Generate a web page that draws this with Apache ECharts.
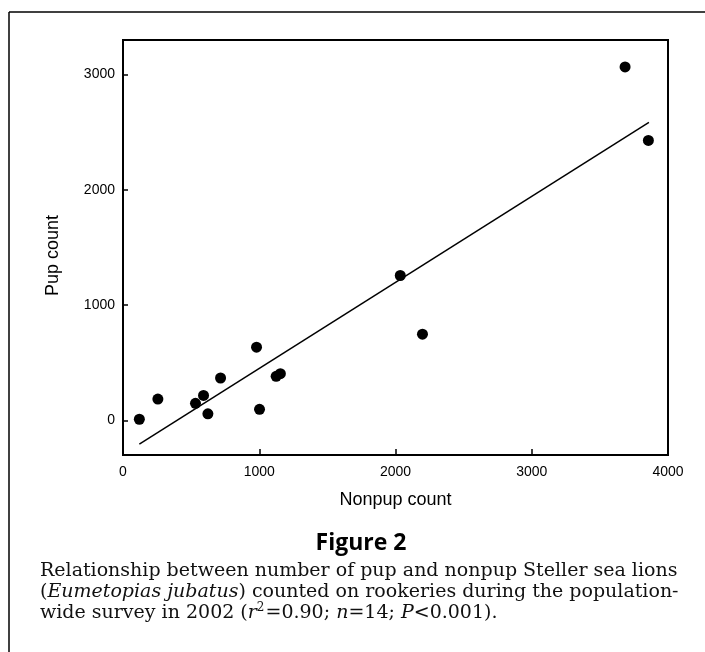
<!DOCTYPE html>
<html>
<head>
<meta charset="utf-8">
<title>Figure 2</title>
<script src="https://cdn.jsdelivr.net/npm/echarts@6/dist/echarts.min.js"></script>
<style>
    html, body {margin: 0; padding: 0; background: #fff;}
    #chartDiv {width: 705px; height: 652px;}
</style>
</head>
<body>
<div id="chartDiv"></div>
<script>
// 数据 - 每个繁殖地的计数
var nonpupCount = [120, 256, 532, 591, 623, 716, 980, 1002, 1124, 1155, 2035, 2198, 3685, 3856];
var pupCount = [10, 185, 148, 217, 57, 368, 635, 96, 383, 405, 1257, 748, 3066, 2429];
// 回归线两端
var fitNonpup = [120, 3860];
var fitPup = [-206, 2585];
// 刻度
var yTickValues = [0, 1000, 2000, 3000];
// 文字
var xTitle = "Nonpup count";
var yTitle = "Pup count";
var figureTitle = "Figure 2";
var captionLines = [
    "Relationship between number of pup and nonpup Steller sea lions",
    "({i|Eumetopias jubatus}) counted on rookeries during the population-",
    "wide survey in 2002 ({i|r}{sup|2}=0.90; {i|n}=14; {i|P}<0.001)."
];

var sansFont = "'Liberation Sans', Arial, sans-serif";
var serifFont = "'DejaVu Serif', serif";
var captionSize = 19;

function pairs(xs, ys) {
    var out = [];
    for (var i = 0; i < xs.length; i++) {
        out.push([xs[i], ys[i]]);
    }
    return out;
}

// 不要千位分隔符
function plainNumber(v) {
    return String(v);
}

function captionText(text, y) {
    return {
        type: 'text',
        x: 40,
        y: y,
        style: {
            text: text,
            fill: '#111',
            font: captionSize + 'px ' + serifFont,
            verticalAlign: 'middle',
            rich: {
                i: {fontStyle: 'italic', fontSize: captionSize, fontFamily: serifFont, fill: '#111'},
                // 上标：用下边距把数字抬高
                sup: {fontSize: 12, fontFamily: serifFont, fill: '#111', verticalAlign: 'middle', lineHeight: 12, padding: [0, 1, 10, 0]}
            }
        }
    };
}

var chart = echarts.init(document.getElementById('chartDiv'));

var graphics = [
    // 外框（上、左）
    {type: 'line', shape: {x1: 9, y1: 12, x2: 705, y2: 12}, style: {stroke: '#000', lineWidth: 1.5}},
    {type: 'line', shape: {x1: 9, y1: 12, x2: 9, y2: 652}, style: {stroke: '#000', lineWidth: 1.5}},
    {
        type: 'text',
        x: 361,
        y: 543,
        style: {
            text: figureTitle,
            fill: '#000',
            font: 'bold 23px "Open Sans", sans-serif',
            align: 'center',
            verticalAlign: 'middle'
        }
    }
];
var capCenters = [571, 592, 613];
for (var k = 0; k < captionLines.length; k++) {
    graphics.push(captionText(captionLines[k], capCenters[k]));
}

var option = {
    animation: false,
    backgroundColor: '#fff',
    grid: {
        left: 123,
        right: 37,
        top: 40,
        bottom: 197,
        show: true,
        borderColor: '#000',
        borderWidth: 2
    },
    xAxis: {
        type: 'value',
        min: 0,
        max: 4000,
        interval: 1000,
        name: xTitle,
        nameLocation: 'middle',
        nameGap: 36,
        nameTextStyle: {fontFamily: sansFont, fontSize: 18, color: '#000'},
        axisLine: {show: true, onZero: false, lineStyle: {color: '#000', width: 2}},
        axisTick: {show: true, inside: true, length: 6, lineStyle: {color: '#000', width: 1.5}},
        axisLabel: {fontFamily: sansFont, fontSize: 14, color: '#000', margin: 10, formatter: plainNumber},
        splitLine: {show: false}
    },
    yAxis: {
        type: 'value',
        min: -300,
        max: 3300,
        name: yTitle,
        nameLocation: 'middle',
        nameGap: 61,
        nameTextStyle: {fontFamily: sansFont, fontSize: 18, color: '#000', padding: [0, 16, 0, 0]},
        axisLine: {show: true, onZero: false, lineStyle: {color: '#000', width: 2}},
        axisTick: {show: true, inside: true, length: 5, customValues: yTickValues, lineStyle: {color: '#000', width: 1.5}},
        axisLabel: {fontFamily: sansFont, fontSize: 14, color: '#000', margin: 8, customValues: yTickValues, formatter: plainNumber},
        splitLine: {show: false}
    },
    series: [
        {
            type: 'line',
            name: 'fit',
            data: pairs(fitNonpup, fitPup),
            symbol: 'none',
            lineStyle: {color: '#000', width: 1.5},
            silent: true
        },
        {
            type: 'scatter',
            name: 'rookeries',
            data: pairs(nonpupCount, pupCount),
            symbolSize: 11,
            itemStyle: {color: '#000', opacity: 1}
        }
    ],
    graphic: graphics
};

chart.setOption(option);
</script>
</body>
</html>
